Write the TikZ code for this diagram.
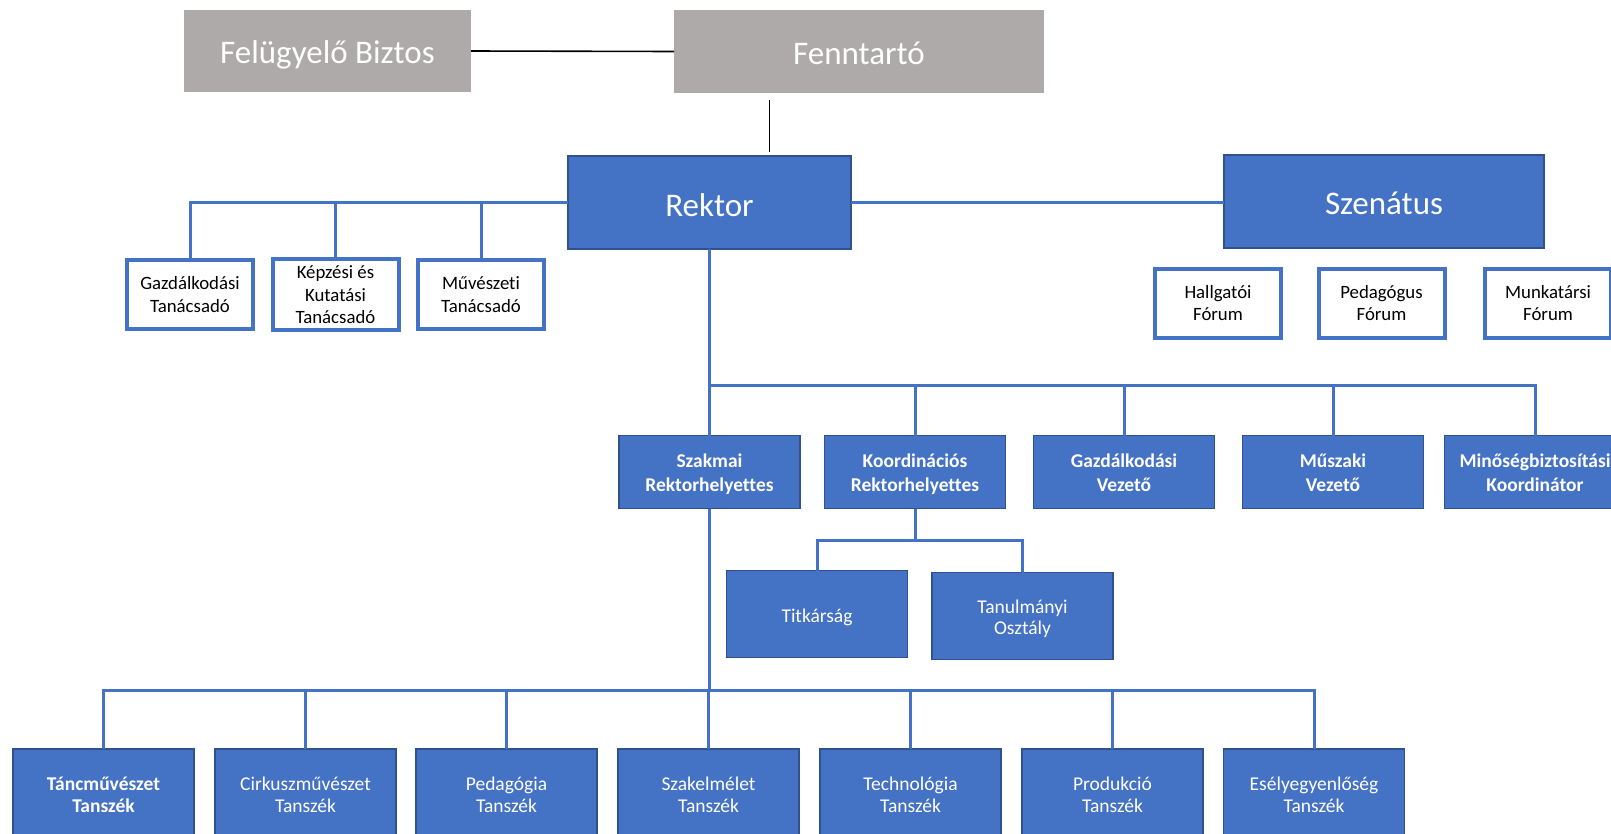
\documentclass[tikz,border=0pt]{standalone}
\usepackage{fontspec}
\setmainfont{Carlito}[Ligatures=NoCommon]
\definecolor{blu}{HTML}{4472C4}
\definecolor{bdr}{HTML}{2F528F}
\definecolor{gry}{HTML}{AEAAAA}
\newcommand\lns[2]{\begin{tabular}{@{}c@{}}\rule{0pt}{\dimexpr\ht\strutbox+#1\relax}#2\end{tabular}}
\begin{document}
\begin{tikzpicture}[x=1pt,y=-1pt,
  base/.style={inner sep=0pt,outer sep=0pt,align=center},
  gbox/.style={base,fill=gry,text=white,font=\fontsize{33}{38}\selectfont},
  bigbox/.style={base,fill=blu,draw=bdr,line width=1.5pt,text=white,font=\fontsize{33}{38}\selectfont},
  midbox/.style={base,fill=blu,draw=bdr,line width=1.5pt,text=white,minimum width=181pt,minimum height=73pt,font=\bfseries\fontsize{19.5}{23.6}\selectfont},
  lowbox/.style={base,fill=blu,draw=bdr,line width=1.5pt,text=white,minimum width=181pt,minimum height=86pt,font=\fontsize{19.5}{21.6}\selectfont},
  obox/.style={base,fill=white,draw=blu,line width=4pt,text=black,minimum width=126pt,minimum height=69pt,font=\fontsize{18.8}{22.5}\selectfont},
  conn/.style={draw=blu,line width=3pt},
  blk/.style={draw=black,line width=1.6pt}]
\clip (0,0) rectangle (1611,833);
\fill[white] (0,0) rectangle (1611,833);
% top
\node[gbox,minimum width=287pt,minimum height=82pt] (fel) at (327.5,51) {\lns{10pt}{Felügyelő Biztos}};
\node[gbox,minimum width=370pt,minimum height=83pt] (fenn) at (859,51.5) {\lns{11pt}{Fenntartó}};
\node[bigbox,minimum width=283pt,minimum height=93pt] (rektor) at (709.5,202.5) {\lns{12pt}{Rektor}};
\node[bigbox,minimum width=320pt,minimum height=93pt] (szen) at (1384,201.5) {\lns{10pt}{Szenátus}};
% advisors
\node[obox] (gt) at (190,294.5) {\lns{4pt}{Gazdálkodási\\Tanácsadó}};
\node[obox] (kt) at (335.5,294.5) {\lns{4pt}{Képzési és\\Kutatási\\Tanácsadó}};
\node[obox] (mt) at (481,294.5) {\lns{4pt}{Művészeti\\Tanácsadó}};
% forums
\node[obox] (hf) at (1218,303) {\lns{4pt}{Hallgatói\\Fórum}};
\node[obox] (pf) at (1381.5,303) {\lns{4pt}{Pedagógus\\Fórum}};
\node[obox] (mf) at (1548,303) {\lns{4pt}{Munkatársi\\Fórum}};
% second row
\node[midbox] (sz) at (709.5,472) {\lns{6pt}{Szakmai\\Rektorhelyettes}};
\node[midbox] (ko) at (915,472) {\lns{6pt}{Koordinációs\\Rektorhelyettes}};
\node[midbox] (gv) at (1124,472) {\lns{6pt}{Gazdálkodási\\Vezető}};
\node[midbox] (mv) at (1333,472) {\lns{6pt}{Műszaki\\Vezető}};
\node[midbox] (mk) at (1535,472) {\lns{6pt}{Minőségbiztosítási\\Koordinátor}};
% third
\node[lowbox,minimum height=87pt] (tit) at (817,614) {\lns{8pt}{Titkárság}};
\node[lowbox,minimum height=87pt] (tan) at (1022.5,616) {\lns{7pt}{Tanulmányi\\Osztály}};
% bottom
\node[lowbox] (t1) at (103.5,792) {\lns{10pt}{\bfseries Táncművészet\\\bfseries Tanszék}};
\node[lowbox] (t2) at (305.5,792) {\lns{10pt}{Cirkuszművészet\\Tanszék}};
\node[lowbox] (t3) at (506.5,792) {\lns{10pt}{Pedagógia\\Tanszék}};
\node[lowbox] (t4) at (708.5,792) {\lns{10pt}{Szakelmélet\\Tanszék}};
\node[lowbox] (t5) at (910.5,792) {\lns{10pt}{Technológia\\Tanszék}};
\node[lowbox] (t6) at (1112.5,792) {\lns{10pt}{Produkció\\Tanszék}};
\node[lowbox] (t7) at (1314,792) {\lns{10pt}{Esélyegyenlőség\\Tanszék}};
% helper coordinates
\coordinate (fx) at (769.5,0);
\coordinate (b2) at (0,385);
\coordinate (b3) at (0,540.5);
\coordinate (b4) at (0,690);
% connectors
\draw[blk] (fel.east) -- (fenn.west);
\draw[blk,shorten <=7pt,shorten >=4pt] (fenn.south -| fx) -- (rektor.north -| fx);
\draw[conn] (rektor.east) -- (rektor.east -| szen.west);
\draw[conn] (rektor.west) -- (rektor.west -| gt.north) -- (gt.north);
\draw[conn] (rektor.west -| kt.north) -- (kt.north);
\draw[conn] (rektor.west -| mt.north) -- (mt.north);
\draw[conn] (rektor.south) -- (sz.north);
\draw[conn] (rektor.south |- b2) -- (b2 -| mk.north) -- (mk.north);
\draw[conn] (b2 -| ko.north) -- (ko.north);
\draw[conn] (b2 -| gv.north) -- (gv.north);
\draw[conn] (b2 -| mv.north) -- (mv.north);
\draw[conn] (ko.south) -- (ko.south |- b3);
\draw[conn] (tit.north) -- (tit.north |- b3) -- (tan.north |- b3) -- (tan.north);
\draw[conn] (sz.south) -- (sz.south |- b4);
\draw[conn] (t1.north) -- (t1.north |- b4) -- (t7.north |- b4) -- (t7.north);
\draw[conn] (b4 -| t2.north) -- (t2.north);
\draw[conn] (b4 -| t3.north) -- (t3.north);
\draw[conn] (b4 -| t4.north) -- (t4.north);
\draw[conn] (b4 -| t5.north) -- (t5.north);
\draw[conn] (b4 -| t6.north) -- (t6.north);
\end{tikzpicture}
\end{document}
